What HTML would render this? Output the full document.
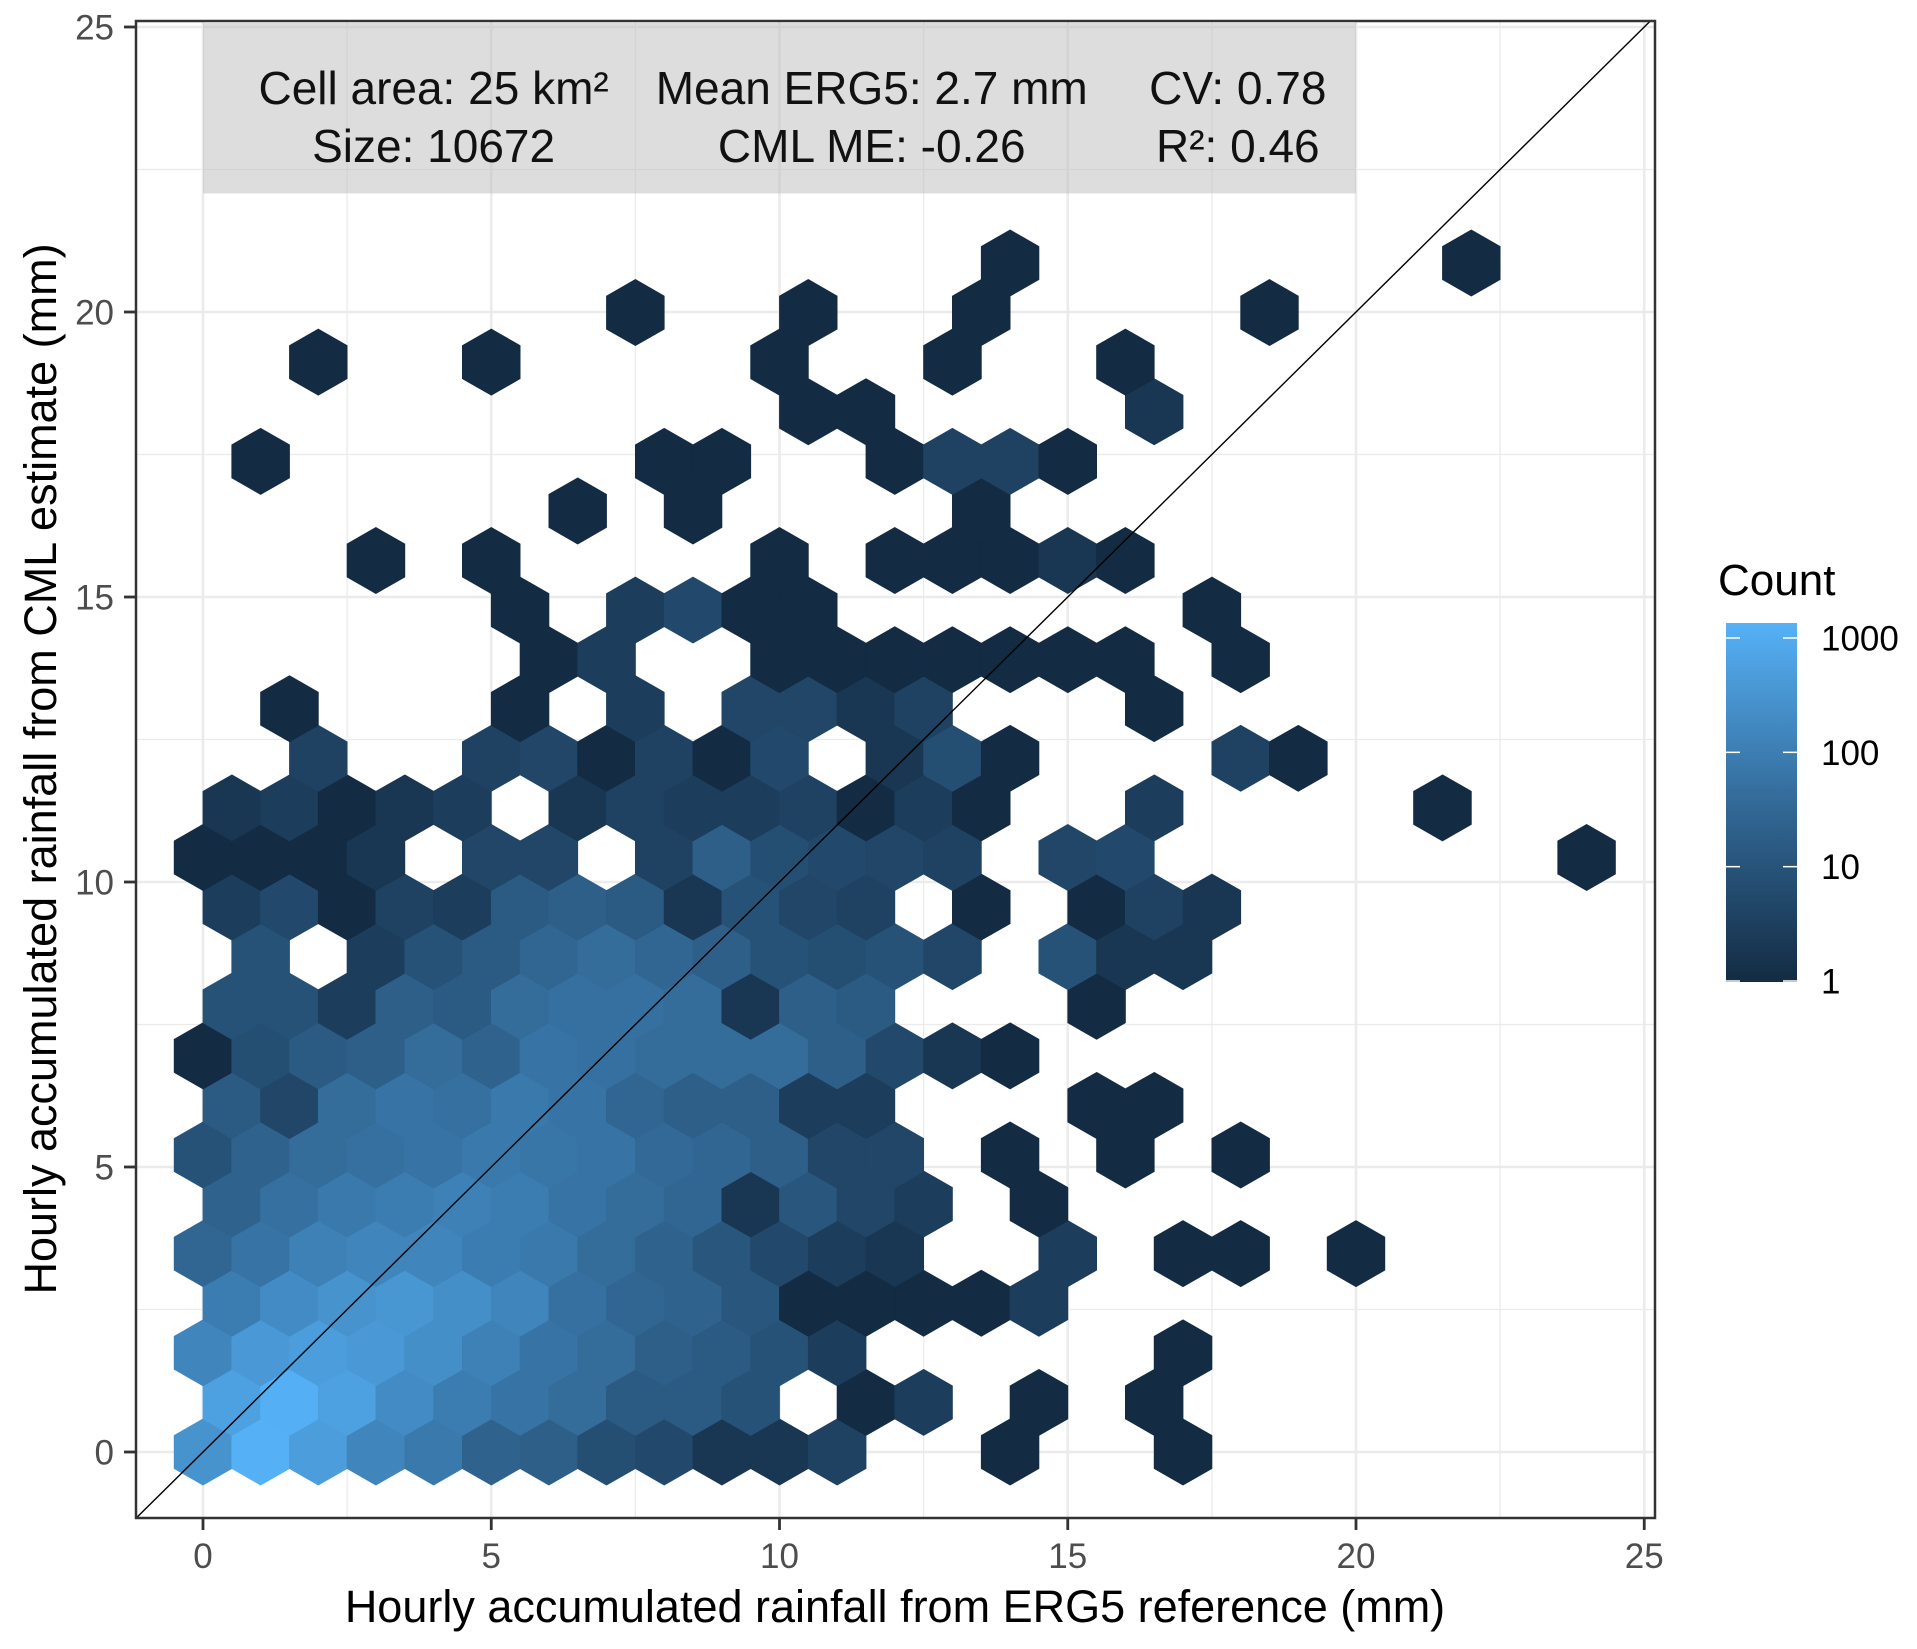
<!DOCTYPE html>
<html><head><meta charset="utf-8">
<style>
html,body{margin:0;padding:0;background:#fff;}
svg{display:block;font-family:"Liberation Sans",Arial,sans-serif;}
</style></head>
<body>
<svg id="chart" width="1917" height="1649" viewBox="0 0 1917 1649">
  <defs>
    <clipPath id="panelClip"><rect x="136" y="21" width="1519" height="1497"/></clipPath>
    <linearGradient id="cbar" x1="0" y1="1" x2="0" y2="0">
      <stop offset="0" stop-color="#132B43"/>
      <stop offset="0.5" stop-color="#336A98"/>
      <stop offset="1" stop-color="#56B1F7"/>
    </linearGradient>
  </defs>
  <rect x="136" y="21" width="1519" height="1497" fill="#fff"/>
  <g id="grid" clip-path="url(#panelClip)"></g>
  <g id="hexes" clip-path="url(#panelClip)"></g>
  <g id="overlay" clip-path="url(#panelClip)"></g>
  <rect x="136" y="21" width="1519" height="1497" fill="none" stroke="#333" stroke-width="2.5"/>
  <g id="axes"></g>
  <text x="895" y="1622" text-anchor="middle" font-size="45" fill="#000">Hourly accumulated rainfall from ERG5 reference (mm)</text>
  <text transform="translate(56,769) rotate(-90)" text-anchor="middle" font-size="45" fill="#000">Hourly accumulated rainfall from CML estimate (mm)</text>
  <g>
    <text x="1718" y="595" font-size="44" fill="#000">Count</text>
    <rect x="1726" y="623" width="71" height="359" fill="url(#cbar)"/>
    <g id="legendTicks"></g>
  </g>
</svg>
<script>
// ---- data ----
const xTicks = [0, 5, 10, 15, 20, 25];
const yTicks = [0, 5, 10, 15, 20, 25];
const xTickLabels = ["0", "5", "10", "15", "20", "25"];
const yTickLabels = ["0", "5", "10", "15", "20", "25"];
const legendValues = [1, 10, 100, 1000];
const legendLabels = ["1", "10", "100", "1000"];
const countMax = 1350;
const hexX = [
 0,1,2,3,4,5,6,7,8,9,10,11,14,17,
 0.5,1.5,2.5,3.5,4.5,5.5,6.5,7.5,8.5,9.5,11.5,12.5,14.5,16.5,
 0,1,2,3,4,5,6,7,8,9,10,11,17,
 0.5,1.5,2.5,3.5,4.5,5.5,6.5,7.5,8.5,9.5,10.5,11.5,12.5,13.5,14.5,
 0,1,2,3,4,5,6,7,8,9,10,11,12,15,17,18,20,
 0.5,1.5,2.5,3.5,4.5,5.5,6.5,7.5,8.5,9.5,10.5,11.5,12.5,14.5,
 0,1,2,3,4,5,6,7,8,9,10,11,12,14,16,18,
 0.5,1.5,2.5,3.5,4.5,5.5,6.5,7.5,8.5,9.5,10.5,11.5,15.5,16.5,
 0,1,2,3,4,5,6,7,8,9,10,11,12,13,14,
 0.5,1.5,2.5,3.5,4.5,5.5,6.5,7.5,8.5,9.5,10.5,11.5,15.5,
 1,3,4,5,6,7,8,9,10,11,12,13,15,16,17,
 0.5,1.5,2.5,3.5,4.5,5.5,6.5,7.5,8.5,9.5,10.5,11.5,13.5,15.5,16.5,17.5,
 0,1,2,3,5,6,8,9,10,11,12,13,15,16,24,
 0.5,1.5,2.5,3.5,4.5,6.5,7.5,8.5,9.5,10.5,11.5,12.5,13.5,16.5,21.5,
 2,5,6,7,8,9,10,12,13,14,18,19,
 1.5,5.5,7.5,9.5,10.5,11.5,12.5,16.5,
 6,7,10,11,12,13,14,15,16,18,
 5.5,7.5,8.5,9.5,10.5,17.5,
 3,5,10,12,13,14,15,16,
 6.5,8.5,13.5,
 1,8,9,12,13,14,15,
 10.5,11.5,16.5,
 2,5,10,13,16,
 7.5,10.5,13.5,18.5,
 14,22
];
const hexY = [
 0,0,0,0,0,0,0,0,0,0,0,0,0,0,
 0.87,0.87,0.87,0.87,0.87,0.87,0.87,0.87,0.87,0.87,0.87,0.87,0.87,0.87,
 1.74,1.74,1.74,1.74,1.74,1.74,1.74,1.74,1.74,1.74,1.74,1.74,1.74,
 2.61,2.61,2.61,2.61,2.61,2.61,2.61,2.61,2.61,2.61,2.61,2.61,2.61,2.61,2.61,
 3.48,3.48,3.48,3.48,3.48,3.48,3.48,3.48,3.48,3.48,3.48,3.48,3.48,3.48,3.48,3.48,3.48,
 4.35,4.35,4.35,4.35,4.35,4.35,4.35,4.35,4.35,4.35,4.35,4.35,4.35,4.35,
 5.21,5.21,5.21,5.21,5.21,5.21,5.21,5.21,5.21,5.21,5.21,5.21,5.21,5.21,5.21,5.21,
 6.08,6.08,6.08,6.08,6.08,6.08,6.08,6.08,6.08,6.08,6.08,6.08,6.08,6.08,
 6.95,6.95,6.95,6.95,6.95,6.95,6.95,6.95,6.95,6.95,6.95,6.95,6.95,6.95,6.95,
 7.82,7.82,7.82,7.82,7.82,7.82,7.82,7.82,7.82,7.82,7.82,7.82,7.82,
 8.69,8.69,8.69,8.69,8.69,8.69,8.69,8.69,8.69,8.69,8.69,8.69,8.69,8.69,8.69,
 9.56,9.56,9.56,9.56,9.56,9.56,9.56,9.56,9.56,9.56,9.56,9.56,9.56,9.56,9.56,9.56,
 10.43,10.43,10.43,10.43,10.43,10.43,10.43,10.43,10.43,10.43,10.43,10.43,10.43,10.43,10.43,
 11.3,11.3,11.3,11.3,11.3,11.3,11.3,11.3,11.3,11.3,11.3,11.3,11.3,11.3,11.3,
 12.17,12.17,12.17,12.17,12.17,12.17,12.17,12.17,12.17,12.17,12.17,12.17,
 13.04,13.04,13.04,13.04,13.04,13.04,13.04,13.04,
 13.9,13.9,13.9,13.9,13.9,13.9,13.9,13.9,13.9,13.9,
 14.77,14.77,14.77,14.77,14.77,14.77,
 15.64,15.64,15.64,15.64,15.64,15.64,15.64,15.64,
 16.51,16.51,16.51,
 17.38,17.38,17.38,17.38,17.38,17.38,17.38,
 18.25,18.25,18.25,
 19.12,19.12,19.12,19.12,19.12,
 19.99,19.99,19.99,19.99,
 20.86,20.86
];
const hexCount = [
 300,1300,500,150,80,25,20,8,6,2,2,4,1,1,
 600,1200,600,200,100,60,40,15,15,10,1,3,1,1,
 150,400,500,400,250,120,60,40,20,15,10,3,1,
 100,200,300,350,250,150,50,30,25,12,1,1,1,1,3,
 30,60,120,150,150,100,80,40,25,12,6,3,2,3,1,1,1,
 25,50,80,100,120,100,60,40,30,2,12,5,3,1,
 10,25,40,50,60,80,70,60,35,30,20,5,5,1,1,1,
 15,5,40,60,50,80,60,30,20,20,3,3,1,1,
 1,8,15,20,40,25,60,50,40,40,40,20,6,2,1,
 10,10,3,20,15,40,50,50,40,2,20,15,1,
 10,3,10,15,30,40,30,20,10,8,10,5,10,2,2,
 3,6,1,4,3,15,20,15,2,10,5,4,1,1,4,2,
 1,1,1,2,5,5,4,20,8,6,5,4,5,6,1,
 2,3,1,2,3,2,4,3,3,4,1,3,1,3,1,
 4,4,5,1,4,1,6,2,8,1,4,1,
 1,1,3,5,5,2,4,1,
 1,3,1,1,1,1,1,1,1,1,
 1,3,6,1,1,1,
 1,1,1,1,1,1,2,1,
 1,1,1,
 1,1,1,1,4,4,1,
 1,1,2,
 1,1,1,1,1,
 1,1,1,1,
 1,1
];
const hexRowStep = 0.869;
const statLines1 = ["Cell area: 25 km²", "Mean ERG5: 2.7 mm", "CV: 0.78"];
const statLines2 = ["Size: 10672", "CML ME: -0.26", "R²: 0.46"];
const statColumnsX = [4.0, 11.6, 17.95];

// ---- scales ----
const NS = "http://www.w3.org/2000/svg";
const xMin = -1.16, xMax = 25.2, yMin = -1.16, yMax = 25.1;
const pxL = 136, pxR = 1655, pxT = 21, pxB = 1518;
const X0 = 203, XU = 57.65, Y0 = 1452, YU = 57.0;
function sx(v){ return X0 + v * XU; }
function sy(v){ return Y0 - v * YU; }
function mk(tag, attrs, parent){
  const e = document.createElementNS(NS, tag);
  for (const k in attrs) e.setAttribute(k, attrs[k]);
  parent.appendChild(e);
  return e;
}
const grid = document.getElementById('grid');
const hexG = document.getElementById('hexes');
const overlay = document.getElementById('overlay');
const axes = document.getElementById('axes');

// grid
for (let i = 0; i < xTicks.length; i++) {
  const mv = xTicks[i] - 2.5;
  if (mv > xMin) {
    const l = mk('line', {x1: sx(mv), x2: sx(mv), y1: pxT, y2: pxB, stroke: '#EBEBEB', 'stroke-width': 1.3}, grid);
    
    
  }
  const mh = yTicks[i] - 2.5;
  if (mh > yMin) {
    const l = mk('line', {x1: pxL, x2: pxR, y1: sy(mh), y2: sy(mh), stroke: '#EBEBEB', 'stroke-width': 1.3}, grid);
    
    
  }
}
for (let i = 0; i < xTicks.length; i++) {
  const l = mk('line', {x1: sx(xTicks[i]), x2: sx(xTicks[i]), y1: pxT, y2: pxB, stroke: '#EBEBEB', 'stroke-width': 2.6}, grid);
  
  
}
for (let i = 0; i < yTicks.length; i++) {
  const l = mk('line', {x1: pxL, x2: pxR, y1: sy(yTicks[i]), y2: sy(yTicks[i]), stroke: '#EBEBEB', 'stroke-width': 2.6}, grid);
  
  
}

// colour scale (log10, Lab interpolation like ggplot)
function srgbToLin(c){ c /= 255; return c <= 0.04045 ? c / 12.92 : Math.pow((c + 0.055) / 1.055, 2.4); }
function linToSrgb(c){ c = c <= 0.0031308 ? 12.92 * c : 1.055 * Math.pow(c, 1 / 2.4) - 0.055; return Math.round(Math.max(0, Math.min(1, c)) * 255); }
const WX = 0.95047, WY = 1, WZ = 1.08883;
function f(t){ return t > 0.008856 ? Math.cbrt(t) : 7.787 * t + 16 / 116; }
function fi(t){ return t > 0.206893 ? t * t * t : (t - 16 / 116) / 7.787; }
function rgb2lab(r, g, b){
  const R = srgbToLin(r), G = srgbToLin(g), B = srgbToLin(b);
  const X = (0.4124 * R + 0.3576 * G + 0.1805 * B) / WX;
  const Y = (0.2126 * R + 0.7152 * G + 0.0722 * B) / WY;
  const Z = (0.0193 * R + 0.1192 * G + 0.9505 * B) / WZ;
  return [116 * f(Y) - 16, 500 * (f(X) - f(Y)), 200 * (f(Y) - f(Z))];
}
function lab2rgb(L, a, bb){
  const fy = (L + 16) / 116, fx = fy + a / 500, fz = fy - bb / 200;
  const X = fi(fx) * WX, Y = fi(fy) * WY, Z = fi(fz) * WZ;
  const R = 3.2406 * X - 1.5372 * Y - 0.4986 * Z;
  const G = -0.9689 * X + 1.8758 * Y + 0.0415 * Z;
  const B = 0.0557 * X - 0.2040 * Y + 1.0570 * Z;
  return [linToSrgb(R), linToSrgb(G), linToSrgb(B)];
}
const loLab = rgb2lab(0x13, 0x2B, 0x43), hiLab = rgb2lab(0x56, 0xB1, 0xF7);
const logMax = Math.log10(countMax);
function colorFor(c){
  let t = Math.log10(Math.max(c, 1)) / logMax;
  t = Math.max(0, Math.min(1, t));
  const L = loLab.map((v, i) => v + (hiLab[i] - v) * t);
  return 'rgb(' + lab2rgb(L[0], L[1], L[2]).join(',') + ')';
}

// hexes
const hw = 0.5, hv = hexRowStep / 3;
for (let i = 0; i < hexX.length; i++) {
  const cx = hexX[i], cy = hexY[i];
  const pts = [
    [cx, cy + 2 * hv], [cx + hw, cy + hv], [cx + hw, cy - hv],
    [cx, cy - 2 * hv], [cx - hw, cy - hv], [cx - hw, cy + hv]
  ].map(p => sx(p[0]).toFixed(1) + ',' + sy(p[1]).toFixed(1)).join(' ');
  const col = colorFor(hexCount[i]);
  const p = mk('polygon', {points: pts, fill: col, stroke: col, 'stroke-width': 0.8}, hexG);
  
  
}

// identity line
const diag = mk('line', {x1: sx(xMin), y1: sy(xMin), x2: sx(yMax + 0.2), y2: sy(yMax + 0.2), stroke: '#000', 'stroke-width': 1.4}, overlay);



// stats box
const box = mk('rect', {x: sx(0), y: sy(25.07), width: sx(20) - sx(0), height: sy(22.08) - sy(25.07), fill: '#BBBBBB', 'fill-opacity': 0.5}, overlay);


for (let i = 0; i < statLines1.length; i++) {
  const t1 = mk('text', {x: sx(statColumnsX[i]), y: 104, 'text-anchor': 'middle', 'font-size': 46, fill: '#111'}, overlay);
  t1.textContent = statLines1[i];
  
  
  const t2 = mk('text', {x: sx(statColumnsX[i]), y: 162, 'text-anchor': 'middle', 'font-size': 46, fill: '#111'}, overlay);
  t2.textContent = statLines2[i];
  
  
}

// axes ticks
for (let i = 0; i < xTicks.length; i++) {
  const x = sx(xTicks[i]);
  const tk = mk('line', {x1: x, x2: x, y1: pxB, y2: pxB + 12, stroke: '#333', 'stroke-width': 2.8}, axes);
  
  
  const tl = mk('text', {x: x, y: 1568, 'text-anchor': 'middle', 'font-size': 35, fill: '#4D4D4D'}, axes);
  tl.textContent = xTickLabels[i];
  
  
}
for (let i = 0; i < yTicks.length; i++) {
  const y = sy(yTicks[i]);
  const tk = mk('line', {x1: pxL - 12, x2: pxL, y1: y, y2: y, stroke: '#333', 'stroke-width': 2.8}, axes);
  
  
  const tl = mk('text', {x: 114, y: y + 12.5, 'text-anchor': 'end', 'font-size': 35, fill: '#4D4D4D'}, axes);
  tl.textContent = yTickLabels[i];
  
  
}

// legend ticks
const lg = document.getElementById('legendTicks');
const barBot = 981;
const decadePx = (barBot - 638) / 3;
for (let i = 0; i < legendValues.length; i++) {
  const y = barBot - Math.log10(legendValues[i]) * decadePx;
  const a = mk('line', {x1: 1726, x2: 1740, y1: y, y2: y, stroke: '#fff', 'stroke-width': 1.5}, lg);
  
  
  const b = mk('line', {x1: 1783, x2: 1797, y1: y, y2: y, stroke: '#fff', 'stroke-width': 1.5}, lg);
  
  
  const t = mk('text', {x: 1821, y: y + 12.5, 'font-size': 35, fill: '#000'}, lg);
  t.textContent = legendLabels[i];
  
  
}
</script>
</body></html>
